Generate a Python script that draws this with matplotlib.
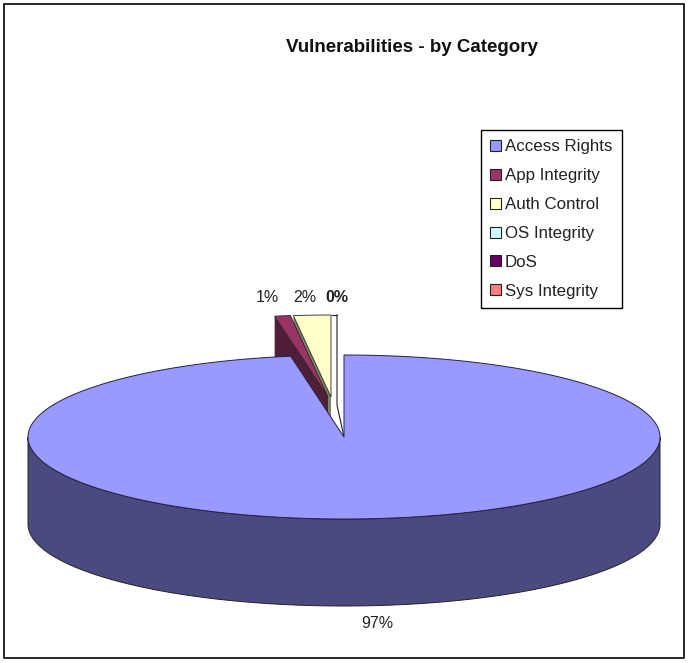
import numpy as np
import matplotlib.pyplot as plt
from matplotlib.patches import Patch, Rectangle

plt.rcParams['font.family'] = ['Liberation Sans', 'DejaVu Sans']

# Data
categories = ['Access Rights', 'App Integrity', 'Auth Control', 'OS Integrity', 'DoS', 'Sys Integrity']
shares = [97.3, 0.8, 1.9, 0.0, 0.0, 0.0]
pct_labels = ['97%', '1%', '2%', '0%']

top_colors = ['#9999FF', '#993366', '#FFFFCC', '#CCFFFF', '#660066', '#FF8080']
side_colors = ['#4A4A80', '#4F1F38', '#7F7F66', '#668080', '#330033', '#804040']

# pie layout in pixels
cx, cy = 344, 437
rx, ry = 316, 82
depth = 87


def ellipse(start, stop, x0, y0, n=240):
    t = np.radians(np.linspace(start, stop, n))
    return x0 + rx * np.sin(t), y0 - ry * np.cos(t)


fig = plt.figure(figsize=(6.89, 6.63), dpi=100)
ax = fig.add_axes([0, 0, 1, 1])
ax.set_xlim(0, 689)
ax.set_ylim(663, 0)
ax.axis('off')
ax.add_patch(Rectangle((4, 4), 680, 654, fc='white', ec='black', lw=1.2))

angles = np.cumsum([0] + shares) * 3.6

# pulled out slices first, the big one covers their lower part
offsets = {1: (-16, -40), 2: (-13, -40)}
for i in [2, 1]:
    dx, dy = offsets[i]
    x0, y0 = cx + dx, cy + dy
    ex, ey = ellipse(angles[i], angles[i + 1], x0, y0, 12)
    # inner wall under the left edge
    ax.fill([x0, ex[0], ex[0], x0], [y0, ey[0], ey[0] + depth, y0 + depth],
            fc=side_colors[i], ec='none', zorder=2)
    ax.fill(np.r_[x0, ex], np.r_[y0, ey], fc=top_colors[i], ec='#222222', lw=0.6, zorder=3)

# empty slice shows only as a line
ax.plot([cx - 7, cx - 7, cx], [315, 405, cy], color='#222222', lw=0.8, zorder=3)
ax.plot([cx - 12, cx - 7], [315, 315], color='#222222', lw=0.8, zorder=3)

# big slice, wall then top
wx, wy = ellipse(90, 270, cx, cy)
ax.fill(np.r_[wx, wx[::-1]], np.r_[wy, wy[::-1] + depth],
        fc=side_colors[0], ec='#222222', lw=0.7, zorder=4)
ex, ey = ellipse(angles[0], angles[1], cx, cy, 480)
ax.fill(np.r_[cx, ex], np.r_[cy, ey], fc=top_colors[0], ec='#222244', lw=0.7, zorder=5)

ax.text(412, 47, 'Vulnerabilities - by Category', ha='center', va='center',
        fontsize=13.5, fontweight='bold', color='#111111')
label_pos = [(377, 624), (267, 298), (305, 298), (337, 298)]
for lab, (x, y) in zip(pct_labels, label_pos):
    ax.text(x, y, lab, ha='center', va='center', fontsize=11.5, color='#222222',
            fontweight='bold' if lab == '0%' else 'normal', zorder=6)

handles = [Patch(fc=c, ec='#222222', lw=0.8) for c in top_colors]
ax.legend(handles, categories, loc='upper left', bbox_to_anchor=(481, 130),
          bbox_transform=ax.transData, fontsize=12.2, frameon=True, fancybox=False,
          edgecolor='black', framealpha=1, borderpad=0.55, handlelength=0.62,
          handleheight=0.62, handletextpad=0.25, labelspacing=0.82, labelcolor='#222222',
          borderaxespad=0)

fig.savefig('out.png', dpi=100)
